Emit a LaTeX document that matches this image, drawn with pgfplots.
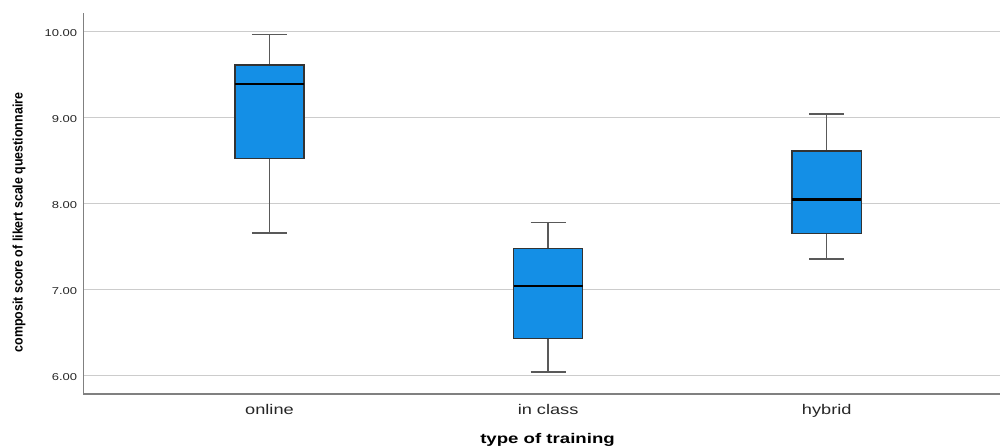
\documentclass[border=0pt]{standalone}
\usepackage{fontspec}
\setmainfont{Liberation Sans}
\usepackage{pgfplots}
\pgfplotsset{compat=1.18}

% wide sans for tick labels and the x title, narrow bold for the y title
\newfontfamily\tickfont[FakeStretch=1.30]{Liberation Sans}
\newfontfamily\wideboldfont[FakeStretch=1.33]{Liberation Sans Bold}
\newfontfamily\narrowboldfont[FakeStretch=0.90]{Liberation Sans Bold}

\definecolor{boxblue}{RGB}{20,143,230}

\pgfplotsset{
  whisker/.style={draw=black!65, line width=0.75pt},
  boxbody/.style={draw=black!80, fill=boxblue, line width=0.75pt, line join=miter},
  medianline/.style={draw=black, line width=1.1pt},
}

\begin{document}
\begin{tikzpicture}
\useasboundingbox (-41.75pt,-26.5pt) rectangle (458.25pt,197pt);
\begin{axis}[
  at={(0,0)}, anchor=south west,
  scale only axis,
  width=458.25pt, height=190.65pt,
  xmin=-0.6676, xmax=2.622,
  ymin=5.779, ymax=10.216,
  axis x line*=bottom, axis y line*=left,
  axis line style={draw=black!50, line width=0.6pt},
  major tick length=0pt,
  xtick={0,1,2},
  xticklabels={online,in class,hybrid},
  xticklabel style={font=\tickfont\fontsize{7}{8}\selectfont, text=black!85,
    anchor=base, yshift=-10pt},
  ytick={6,7,8,9,10},
  yticklabel style={font=\tickfont\fontsize{5}{6}\selectfont, text=black!85,
    inner sep=0pt, anchor=east, xshift=-3pt, yshift=-1.1pt,
    /pgf/number format/.cd, fixed, fixed zerofill, precision=2,
    assume math mode=true},
  ymajorgrids,
  grid style={draw=black!20, line width=0.5pt},
  xlabel={type of training},
  xlabel style={font=\wideboldfont\fontsize{7}{8}\selectfont,
    at={(rel axis cs:0.5063,-0.1293)}, anchor=base},
  ylabel={composit score of likert scale questionnaire},
  ylabel style={font=\narrowboldfont\fontsize{6.9}{8}\selectfont,
    at={(rel axis cs:-0.07038,0.44978)}, anchor=center, rotate=0},
]
% ---- online: whiskers 7.65 / 9.96, quartiles 8.52 / 9.605, median 9.39
\addplot[whisker] coordinates {(0,7.65) (0,8.52)};
\addplot[whisker] coordinates {(0,9.605) (0,9.96)};
\addplot[whisker] coordinates {(-0.063,7.65) (0.063,7.65)};
\addplot[whisker] coordinates {(-0.063,9.96) (0.063,9.96)};
\addplot[boxbody] coordinates {(-0.124,8.52) (0.124,8.52) (0.124,9.605) (-0.124,9.605)} -- cycle;
\addplot[medianline] coordinates {(-0.124,9.39) (0.124,9.39)};

% ---- in class: whiskers 6.035 / 7.776, quartiles 6.427 / 7.47, median 7.035
\addplot[whisker] coordinates {(1,6.035) (1,6.427)};
\addplot[whisker] coordinates {(1,7.47) (1,7.776)};
\addplot[whisker] coordinates {(0.937,6.035) (1.063,6.035)};
\addplot[whisker] coordinates {(0.937,7.776) (1.063,7.776)};
\addplot[boxbody] coordinates {(0.876,6.427) (1.124,6.427) (1.124,7.47) (0.876,7.47)} -- cycle;
\addplot[medianline] coordinates {(0.876,7.035) (1.124,7.035)};

% ---- hybrid: whiskers 7.349 / 9.035, quartiles 7.648 / 8.605, median 8.043
\addplot[whisker] coordinates {(2,7.349) (2,7.648)};
\addplot[whisker] coordinates {(2,8.605) (2,9.035)};
\addplot[whisker] coordinates {(1.937,7.349) (2.063,7.349)};
\addplot[whisker] coordinates {(1.937,9.035) (2.063,9.035)};
\addplot[boxbody] coordinates {(1.876,7.648) (2.124,7.648) (2.124,8.605) (1.876,8.605)} -- cycle;
\addplot[medianline] coordinates {(1.876,8.043) (2.124,8.043)};
\end{axis}
\end{tikzpicture}
\end{document}
